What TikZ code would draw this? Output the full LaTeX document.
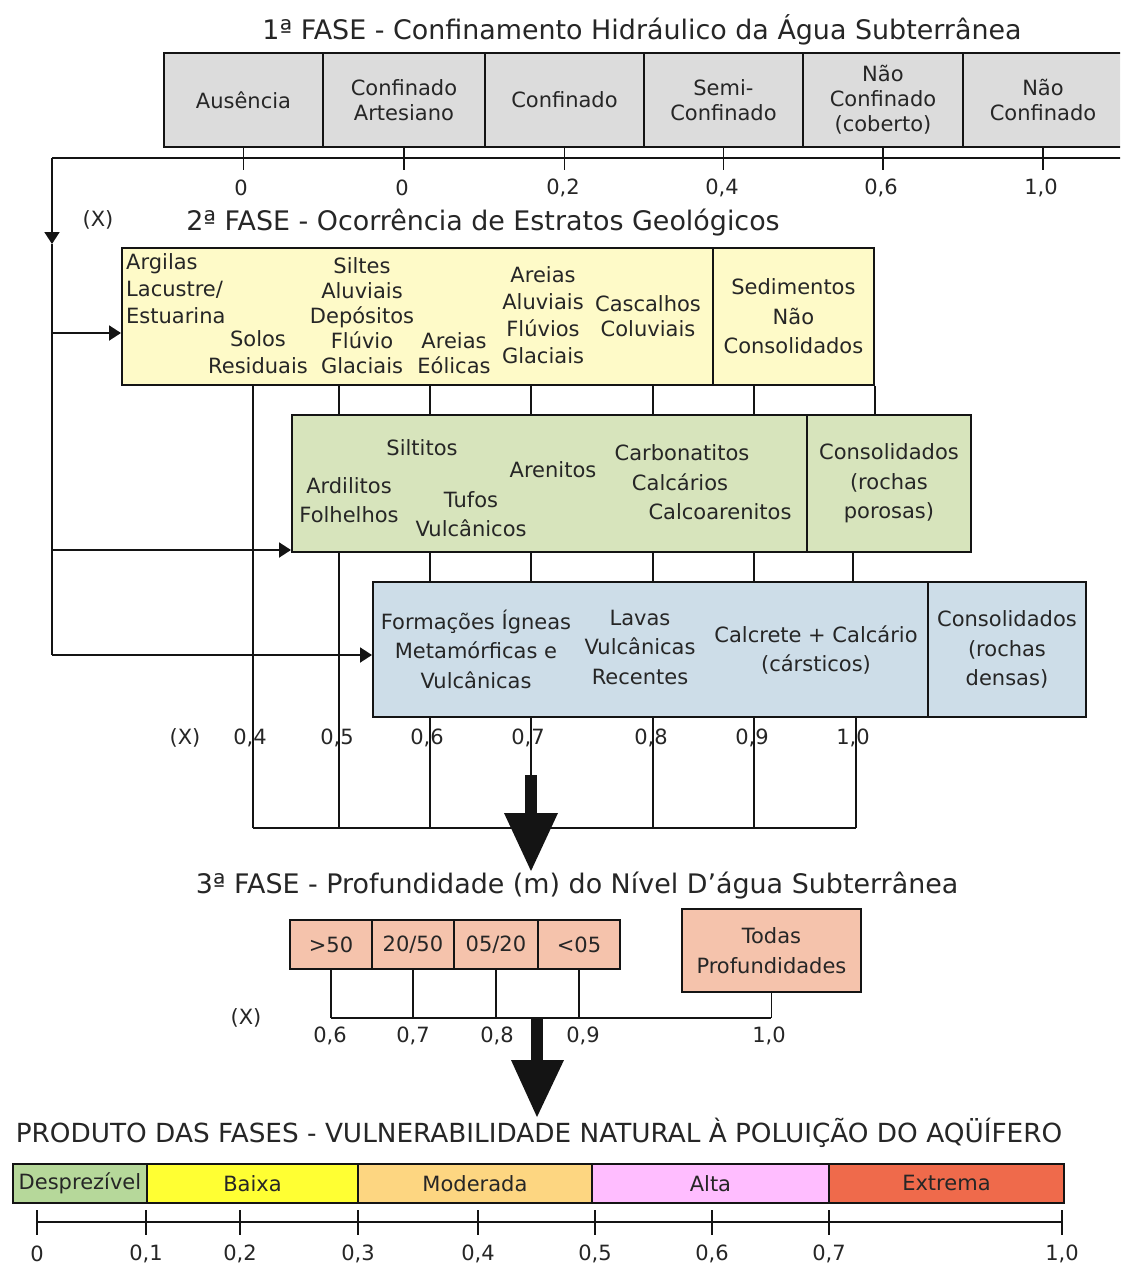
\documentclass[tikz,border=0pt]{standalone}
\usepackage{fontspec}
\setmainfont{DejaVu Sans}
\usetikzlibrary{arrows.meta}
\definecolor{txt}{HTML}{262626}
\definecolor{ln}{HTML}{141414}
\definecolor{gbox}{HTML}{DCDCDC}
\definecolor{ybox}{HTML}{FEFAC8}
\definecolor{vbox}{HTML}{D7E4BC}
\definecolor{bbox}{HTML}{CDDDE8}
\definecolor{sbox}{HTML}{F5C3AC}
\definecolor{cDes}{HTML}{B6D89A}
\definecolor{cBai}{HTML}{FFFF33}
\definecolor{cMod}{HTML}{FDD681}
\definecolor{cAlt}{HTML}{FFBDFF}
\definecolor{cExt}{HTML}{EF6A4B}
\begin{document}
\begin{tikzpicture}[x=1pt,y=-1pt,
  ttl/.style={font=\fontsize{26.9}{30}\selectfont, text=txt, inner sep=0pt},
  lbl/.style={font=\fontsize{21}{25}\selectfont, text=txt, inner sep=0pt, align=center},
  lbly/.style={lbl, font=\fontsize{21}{27}\selectfont},
  lblw/.style={lbl, font=\fontsize{21}{29.5}\selectfont},
  box/.style={draw=ln, line width=1.9pt, rectangle, inner sep=0pt, anchor=north west},
  conn/.style={draw=ln, line width=1.9pt},
  tipd/.style={-{Triangle[length=12pt,width=15pt]}},
  bigarrow/.style={fill=ln, draw=none}
]
\useasboundingbox (0,0) rectangle (1120,1268);
\clip (0,0) rectangle (1120,1268);
\fill[white] (0,0) rectangle (1120,1268);

% ---------- 1a FASE ----------
\node[ttl] (t1) at (642,30) {1ª FASE - Confinamento Hidráulico da Água Subterrânea};
\node[box, fill=gbox, minimum width=159, minimum height=94, lbl] (p1a) at (163,52) {Ausência};
\node[box, fill=gbox, minimum width=162, minimum height=94, lbl] (p1b) at (322,52) {Confinado\\Artesiano};
\node[box, fill=gbox, minimum width=159, minimum height=94, lbl] (p1c) at (484,52) {Confinado};
\node[box, fill=gbox, minimum width=159, minimum height=94, lbl] (p1d) at (643,52) {Semi-\\Confinado};
\node[box, fill=gbox, minimum width=160, minimum height=94, lbl] (p1e) at (802,52) {Não\\Confinado\\(coberto)};
\node[box, fill=gbox, minimum width=160, minimum height=94, lbl] (p1f) at (962,52) {Não\\Confinado};

\coordinate (f0) at (52,158);
\coordinate (bus1R) at (1125,158);
\draw[conn] (f0) -- (bus1R);
\foreach \c in {p1a,p1b,p1c,p1d,p1e,p1f}{
  \draw[conn] (\c.south) -- (\c.south |- 0,170);
}
\node[lbl] (v1a) at (241,188) {0};
\node[lbl] (v1b) at (402,188) {0};
\node[lbl] (v1c) at (563,188) {0,2};
\node[lbl] (v1d) at (722,188) {0,4};
\node[lbl] (v1e) at (881,188) {0,6};
\node[lbl] (v1f) at (1041,188) {1,0};

% ---------- 2a FASE ----------
\node[lbl] (x1) at (98,220) {(X)};
\node[ttl] (t2) at (483,223) {2ª FASE - Ocorrência de Estratos Geológicos};

% column coordinates on bottom bus
\coordinate (k4) at (253,828);
\coordinate (k5) at (339,828);
\coordinate (k6) at (430,828);
\coordinate (k7) at (531,828);
\coordinate (k8) at (653,828);
\coordinate (k9) at (754,828);
\coordinate (k10) at (856,828);

% boxes
\node[box, fill=ybox, minimum width=591, minimum height=137] (y1) at (121,247) {};
\node[box, fill=ybox, minimum width=161, minimum height=137, lblw] (y2) at (712,247) {Sedimentos\\Não\\Consolidados};
\node[box, fill=vbox, minimum width=515, minimum height=137] (g1) at (291,414) {};
\node[box, fill=vbox, minimum width=164, minimum height=137, lblw] (g2) at (806,414) {Consolidados\\(rochas\\porosas)};
\node[box, fill=bbox, minimum width=555, minimum height=135] (b1) at (372,581) {};
\node[box, fill=bbox, minimum width=158, minimum height=135, lblw] (b2) at (927,581) {Consolidados\\(rochas\\densas)};

% feed line and arrows
\coordinate (fA) at (52,244);
\coordinate (fY) at (52,333);
\coordinate (fG) at (52,550);
\coordinate (fB) at (52,655);
\draw[conn, tipd] (f0) -- (fA);
\draw[conn] (fA) -- (fB);
\draw[conn, tipd] (fY) -- (y1.west |- fY);
\draw[conn, tipd] (fG) -- (g1.west |- fG);
\draw[conn, tipd] (fB) -- (b1.west |- fB);

% yellow texts
\node[lbly, align=left, anchor=west] (ya) at (126,289) {Argilas\\Lacustre/\\Estuarina};
\node[lbly] (yb) at (258,352) {Solos\\Residuais};
\node[lbl] (yc) at (362,316) {Siltes\\Aluviais\\Depósitos\\Flúvio\\Glaciais};
\node[lbl] (yd) at (454,353) {Areias\\Eólicas};
\node[lbly] (ye) at (543,315) {Areias\\Aluviais\\Flúvios\\Glaciais};
\node[lbl] (yf) at (648,316) {Cascalhos\\Coluviais};

% green texts
\node[lbl] (ga) at (422,448) {Siltitos};
\node[lblw] (gb) at (349,500) {Ardilitos\\Folhelhos};
\node[lbl] (gc) at (553,470) {Arenitos};
\node[lblw] (gd) at (471,514) {Tufos\\Vulcânicos};
\node[lbl] (ge) at (682,453) {Carbonatitos};
\node[lbl] (gf) at (680,482) {Calcários};
\node[lbl] (gg) at (720,512) {Calcoarenitos};

% blue texts
\node[lblw] (ba) at (476,649) {Formações Ígneas\\Metamórficas e\\Vulcânicas};
\node[lblw] (bb) at (640,647) {Lavas\\Vulcânicas\\Recentes};
\node[lblw] (bc) at (816,650) {Calcrete + Calcário\\(cársticos)};

% column connectors
\draw[conn] (y1.south -| k4) -- (k4);
\draw[conn] (y1.south -| k5) -- (g1.north -| k5);
\draw[conn] (g1.south -| k5) -- (k5);
\foreach \k in {k6,k7,k8,k9}{
  \draw[conn] (y1.south -| \k) -- (g1.north -| \k);
  \draw[conn] (g1.south -| \k) -- (b1.north -| \k);
  \draw[conn] (b1.south -| \k) -- (\k);
}
\draw[conn] (y2.south east) -- (y2.south east |- g1.north);
\draw[conn] (g1.south -| 853,0) -- (b1.north -| 853,0);
\draw[conn] (b1.south -| k10) -- (k10);
\draw[conn] (k4) -- (k10);

% row values
\node[lbl] (x2) at (185,738) {(X)};
\node[lbl] (r4) at (250,738) {0,4};
\node[lbl] (r5) at (337,738) {0,5};
\node[lbl] (r6) at (427,738) {0,6};
\node[lbl] (r7) at (528,738) {0,7};
\node[lbl] (r8) at (651,738) {0,8};
\node[lbl] (r9) at (752,738) {0,9};
\node[lbl] (r10) at (853,738) {1,0};

% big arrow 1
\fill[bigarrow] (525,775) rectangle (537,814);
\fill[bigarrow] (504,813) -- (558,813) -- (531,871) -- cycle;

% ---------- 3a FASE ----------
\node[ttl] (t3) at (577,886) {3ª FASE - Profundidade (m) do Nível D’água Subterrânea};
\node[box, fill=sbox, minimum width=82, minimum height=49, lbl] (s1) at (289,919) {>50};
\node[box, fill=sbox, minimum width=82, minimum height=49, lbl] (s2) at (371,919) {20/50};
\node[box, fill=sbox, minimum width=84, minimum height=49, lbl] (s3) at (453,919) {05/20};
\node[box, fill=sbox, minimum width=82, minimum height=49, lbl] (s4) at (537,919) {<05};
\node[box, fill=sbox, minimum width=179, minimum height=83, lblw] (s5) at (681,908) {Todas\\Profundidades};

\coordinate (mbus) at (0,1018);
\foreach \s in {s1,s2,s3,s4,s5}{
  \draw[conn] (\s.south) -- (\s.south |- mbus);
}
\draw[conn] (s1.south |- mbus) -- (s5.south |- mbus);
\node[lbl] (x3) at (246,1018) {(X)};
\node[lbl] (q6) at (330,1036) {0,6};
\node[lbl] (q7) at (413,1036) {0,7};
\node[lbl] (q8) at (497,1036) {0,8};
\node[lbl] (q9) at (583,1036) {0,9};
\node[lbl] (q10) at (769,1036) {1,0};

% big arrow 2
\fill[bigarrow] (531,1018) rectangle (543,1061);
\fill[bigarrow] (511,1060) -- (564,1060) -- (537,1117) -- cycle;

% ---------- PRODUTO ----------
\node[ttl, font=\fontsize{26.3}{30}\selectfont] (t4) at (539,1133) {PRODUTO DAS FASES - VULNERABILIDADE NATURAL À POLUIÇÃO DO AQÜÍFERO};
\node[box, fill=cDes, minimum width=134, minimum height=39, lbl] (d1) at (12,1163) {Desprezível};
\node[box, fill=cBai, minimum width=211, minimum height=39, lbl] (d2) at (146,1163) {Baixa};
\node[box, fill=cMod, minimum width=234, minimum height=39, lbl] (d3) at (357,1163) {Moderada};
\node[box, fill=cAlt, minimum width=237, minimum height=39, lbl] (d4) at (591,1163) {Alta};
\node[box, fill=cExt, minimum width=235, minimum height=39, lbl] (d5) at (828,1163) {Extrema};

\coordinate (sL) at (37,1222);
\coordinate (sR) at (1062,1222);
\draw[conn] (sL) -- (sR);
\foreach \xx/\tt in {37/0,146/{0,1},240/{0,2},358/{0,3},478/{0,4},595/{0,5},712/{0,6},829/{0,7},1062/{1,0}}{
  \draw[conn] (\xx,1210) -- (\xx,1235);
  \node[lbl] at (\xx,1254) {\tt};
}
\end{tikzpicture}
\end{document}
